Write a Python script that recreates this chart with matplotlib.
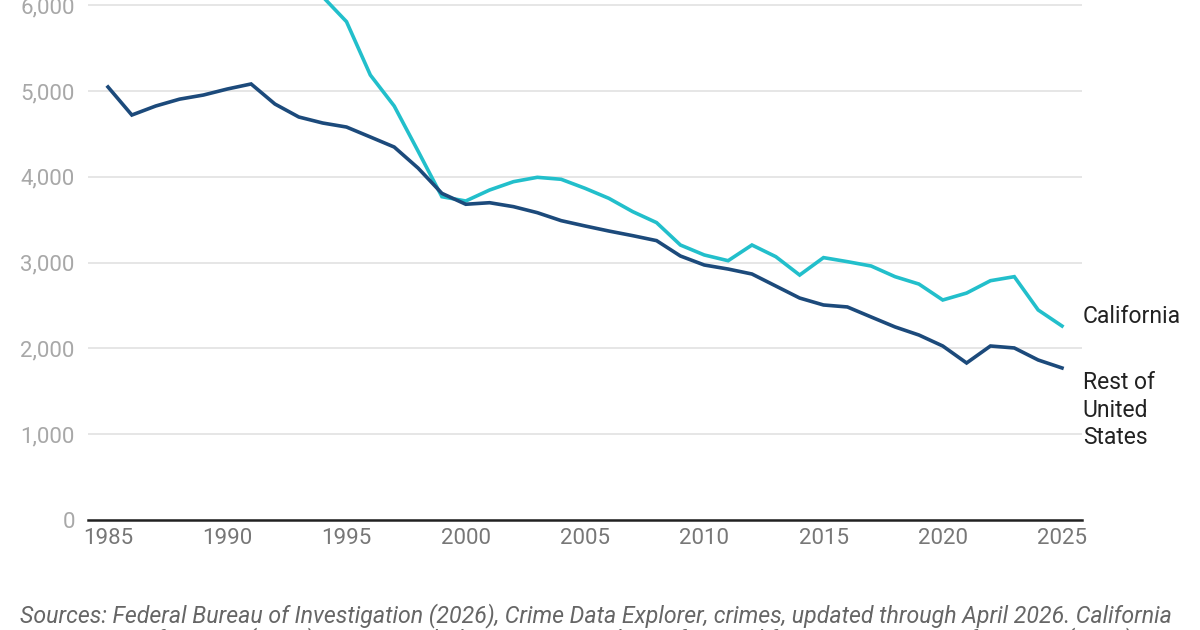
import matplotlib.pyplot as plt
from matplotlib.ticker import FuncFormatter

plt.rcParams['font.family'] = ['Roboto', 'DejaVu Sans']

# Crime rate per 100,000 residents
years = list(range(1985, 2026))
california = [7100, 7150, 6950, 6980, 7020, 7060, 7150, 7000, 6650, 6100,
              5808, 5186, 4825, 4300, 3768, 3718, 3846, 3943, 3994, 3971,
              3866, 3749, 3594, 3466, 3205, 3089, 3022, 3205, 3069, 2855,
              3058, 3011, 2960, 2836, 2750, 2564, 2645, 2789, 2836, 2448,
              2261]
rest_of_us = [5047, 4720, 4825, 4905, 4953, 5023, 5082, 4848, 4697, 4627,
              4580, 4464, 4347, 4102, 3807, 3680, 3698, 3652, 3582, 3489,
              3427, 3368, 3314, 3256, 3077, 2972, 2925, 2867, 2727, 2587,
              2506, 2483, 2366, 2250, 2156, 2028, 1830, 2028, 2005, 1865,
              1772]
x_ticks = [1985, 1990, 1995, 2000, 2005, 2010, 2015, 2020, 2025]
y_ticks = [0, 1000, 2000, 3000, 4000, 5000, 6000, 7000]

cyan = '#22bfcb'
navy = '#1c4a7b'

fig = plt.figure(figsize=(12, 6.3), dpi=100)
# the chart is cropped at the top, so the axes run past the figure edge
ax = fig.add_axes([88 / 1200, 110 / 630, 994 / 1200, 686.4 / 630])

ax.plot(years, california, color=cyan, lw=2.6, solid_joinstyle='miter')
ax.plot(years, rest_of_us, color=navy, lw=2.6, solid_joinstyle='miter')

ax.set_xlim(1985 - 20 / 23.85, 2025 + 20 / 23.85)
ax.set_ylim(0, 8000)
ax.set_xticks(x_ticks)
ax.set_yticks(y_ticks)
ax.yaxis.set_major_formatter(FuncFormatter(lambda v, p: f'{int(v):,}'))
ax.tick_params(axis='y', length=0, pad=9.5, labelsize=16, labelcolor='#a8a8a8')
ax.tick_params(axis='x', length=0, pad=6, labelsize=16, labelcolor='#777777')
ax.grid(axis='y', color='#e6e6e6', lw=1.4)
ax.set_axisbelow(True)
for s in ['top', 'right', 'left']:
    ax.spines[s].set_visible(False)
ax.spines['bottom'].set_color('#222222')
ax.spines['bottom'].set_linewidth(1.8)

# end labels
ax.annotate('California', xy=(years[-1], california[-1]), xytext=(15, 7),
            textcoords='offset points', va='center', ha='left', fontsize=16.5,
            color='#222222', annotation_clip=False)
ax.annotate('Rest of\nUnited\nStates', xy=(years[-1], rest_of_us[-1]),
            xytext=(15, -2.5), textcoords='offset points', va='top', ha='left',
            fontsize=16.5, color='#222222', linespacing=1.24,
            annotation_clip=False)

# source note, second line is cut by the bottom edge
fig.text(20 / 1200, 1 - 622 / 630,
         'Sources: Federal Bureau of Investigation (2026), Crime Data Explorer, '
         'crimes, updated through April 2026. California',
         fontsize=16.7, style='italic', color='#666666', va='baseline')
fig.text(20 / 1200, 1 - 646 / 630,
         'Department of Justice (2026), Crimes and Clearances; population from '
         'California Department of Finance (2026).',
         fontsize=16.7, style='italic', color='#666666', va='baseline')

fig.savefig('out.png', dpi=100)
